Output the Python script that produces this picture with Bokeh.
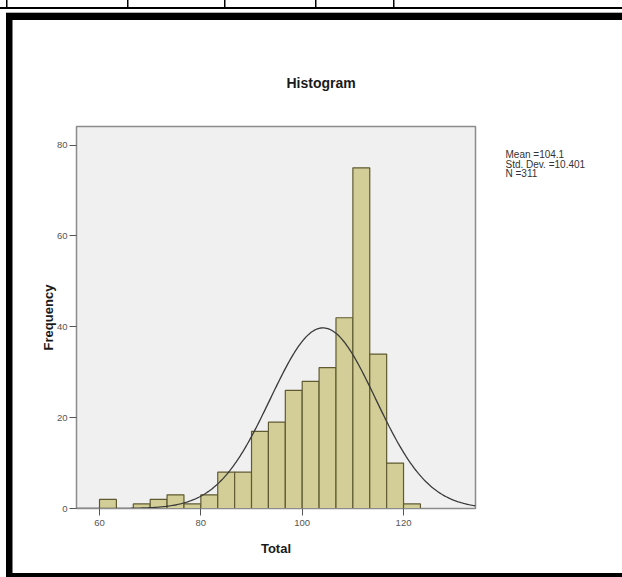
import math

from bokeh.embed import file_html
from bokeh.models import FixedTicker, LinearAxis, Range1d
from bokeh.plotting import figure
from bokeh.resources import INLINE

# Histogram of Total scores: bin counts, left to right
bin_start = 60.0
bin_width = 10.0 / 3.0
counts = [2, 0, 1, 2, 3, 1, 3, 8, 8, 17, 19, 26, 28, 31, 42, 75, 34, 10, 1]

# Summary statistics shown beside the chart
stat_mean = 104.1
stat_sd = 10.401
stat_n = 311

x_ticks = [60, 80, 100, 120]
y_ticks = [0, 20, 40, 60, 80]

FONT = "Liberation Sans"
X0, X1 = 55.46, 134.2
Y0, Y1 = 0, 84.1

lefts = [bin_start + i * bin_width for i in range(len(counts))]
rights = [l + bin_width for l in lefts]
keep = [i for i, c in enumerate(counts) if c > 0]

p = figure(
    width=622, height=577,
    x_range=(X0, X1), y_range=(Y0, Y1),
    output_backend="svg", toolbar_location=None,
    min_border_left=76, min_border_right=147,
    min_border_top=126, min_border_bottom=69,
)
p.background_fill_color = "#f0f0f0"
p.border_fill_alpha = 0.0
p.outline_line_color = "#8c8c8c"
p.outline_line_width = 1.5
p.xgrid.visible = False
p.ygrid.visible = False

# Page frame and table rules painted behind the canvas
def rect(x, y, w, h, color="#000"):
    return "linear-gradient(%s,%s) %spx %spx / %spx %spx no-repeat" % (color, color, x, y, w, h)

layers = [rect(0, 6.5, 622, 2)]
layers += [rect(vx - 0.75, 0, 1.5, 7) for vx in (7, 128, 225, 316, 394)]
layers += [
    rect(6, 12, 616, 1, "#b0b0b0"),
    rect(6, 13, 616, 7),
    rect(6, 13, 6.5, 564),
    rect(6, 573, 616, 4),
]
p.styles = {"background": ", ".join(layers) + ", #ffffff"}

p.quad(
    left=[lefts[i] for i in keep], right=[rights[i] for i in keep],
    bottom=0, top=[counts[i] for i in keep],
    fill_color="#d3ce97", line_color="#5f5a30", line_width=1.2,
)

# Fitted normal curve scaled to counts per bin
xs = [X0 + i * (X1 - X0) / 300 for i in range(301)]
scale = stat_n * bin_width / (stat_sd * math.sqrt(2 * math.pi))
ys = [scale * math.exp(-0.5 * ((x - stat_mean) / stat_sd) ** 2) for x in xs]
p.line(xs, ys, line_color="#3a3a3a", line_width=1.3)

for ax, ticks in ((p.xaxis, x_ticks), (p.yaxis, y_ticks)):
    ax.ticker = ticks
    ax.minor_tick_line_color = None
    ax.major_tick_in = 0
    ax.major_tick_out = 7
    ax.axis_line_color = "#8c8c8c"
    ax.major_tick_line_color = "#555555"
    ax.major_label_text_font = FONT
    ax.major_label_text_font_size = "9.5px"
    ax.major_label_text_color = "#555555"
    ax.axis_label_text_font = FONT
    ax.axis_label_text_font_size = "13px"
    ax.axis_label_text_font_style = "bold"
    ax.axis_label_text_color = "#1a1a1a"
p.xaxis.major_label_standoff = 4
p.yaxis.major_label_standoff = 2
p.xaxis.axis_label = "Total"
p.yaxis.axis_label = "Frequency"
p.xaxis.axis_label_standoff = 12
p.yaxis.axis_label_standoff = -2

p.title.text = "Histogram"
p.title.align = "left"
p.title.offset = 210
p.title.text_font = FONT
p.title.text_font_size = "14px"
p.title.text_font_style = "bold"
p.title.text_color = "#1a1a1a"
p.title.standoff = 72

# Summary statistics as labels of a bare axis right of the plot area
# (one unit of the "stats" range is one text line)
p.extra_y_ranges = {"stats": Range1d(start=-34.26, end=5.95)}
stats = {3: "Mean =%.1f" % stat_mean, 2: "Std. Dev. =%.3f" % stat_sd, 1: "N =%d" % stat_n}
stats_axis = LinearAxis(
    y_range_name="stats",
    ticker=FixedTicker(ticks=sorted(stats)),
    major_label_overrides=stats,
    axis_line_color=None, major_tick_line_color=None, minor_tick_line_color=None,
    major_tick_out=0, major_tick_in=0, major_label_standoff=30,
    major_label_text_font=FONT, major_label_text_font_size="10px",
    major_label_text_color="#333333",
)
p.add_layout(stats_axis, "right")

open("out.html", "w").write(file_html(p, INLINE))
